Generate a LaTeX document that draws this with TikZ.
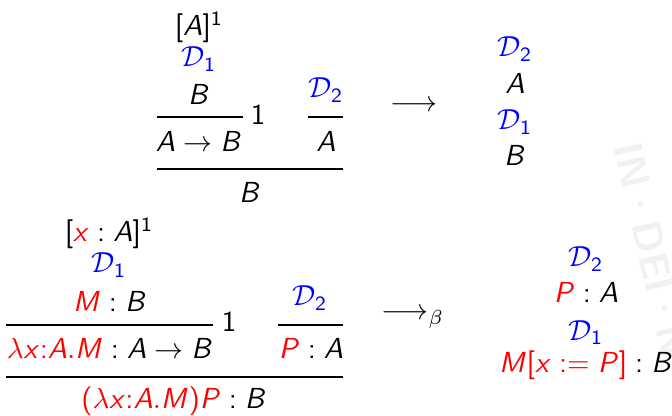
\documentclass[tikz,border=0pt]{standalone}
\usetikzlibrary{positioning}
% sans-serif math letters, as on the slide
\DeclareSymbolFont{sfitalic}{OT1}{cmss}{m}{sl}
\SetSymbolFont{operators}{normal}{OT1}{cmss}{m}{n}
\DeclareMathSymbol{A}{\mathalpha}{sfitalic}{`A}
\DeclareMathSymbol{B}{\mathalpha}{sfitalic}{`B}
\DeclareMathSymbol{M}{\mathalpha}{sfitalic}{`M}
\DeclareMathSymbol{P}{\mathalpha}{sfitalic}{`P}
\DeclareMathSymbol{x}{\mathalpha}{sfitalic}{`x}
\newcommand{\tm}[1]{\textcolor{red}{#1}}
\newcommand{\dv}[1]{\textcolor{blue}{\mathcal{D}_{#1}}}
\tikzset{fm/.style={inner sep=0pt,anchor=base},
  infer/.style={line width=0.6pt},
  seal/.style={text=gray!11,font=\sffamily\bfseries\fontsize{14}{14}\selectfont,rotate=-77}}

\begin{document}
\begin{tikzpicture}[x=0.345pt,y=-0.345pt]
\useasboundingbox (0,0) rectangle (672,416);
\node[seal] (wm) at (652,250) {IN\textperiodcentered DEI\textperiodcentered N};
% proof before reduction
\node[fm] (hypA) at (199,36) {$[A]^1$};
\node[fm] (dA) at (199,67) {$\dv1$};
\node[fm] (prB) at (199,105) {$B$};
\node[fm] (imp) at (199,152) {$A\to B$};
\node[fm] (lab1) at (258,125) {$1$};
\node[fm] (dB) at (326,98) {$\dv2$};
\node[fm] (prA) at (326,152) {$A$};
\node[fm] (conB) at (250,203) {$B$};
\coordinate (r1a) at (157,117); \coordinate (r1b) at (243,117);
\coordinate (r2a) at (308,117); \coordinate (r2b) at (343,117);
\coordinate (r3a) at (157,169); \coordinate (r3b) at (343,169);
\draw[infer] (r1a)--(r1b);
\draw[infer] (r2a)--(r2b);
\draw[infer] (r3a)--(r3b);
\node[fm] (red) at (414,112) {$\longrightarrow$};
% proof after reduction
\node[fm] (nB) at (515,57) {$\dv2$};
\node[fm] (nA) at (515,94) {$A$};
\node[fm] (nD) at (515,130) {$\dv1$};
\node[fm] (nC) at (515,166) {$B$};
% typed version
\node[fm] (hypx) at (109,242) {$[\tm{x}:A]^1$};
\node[fm] (dx) at (109,273) {$\dv1$};
\node[fm] (prM) at (110,312) {$\tm{M}:B$};
\node[fm] (lam) at (110,358) {$\tm{\lambda x{:}A.M}:A\to B$};
\node[fm] (lab2) at (229,332) {$1$};
\node[fm] (dP) at (310,306) {$\dv2$};
\node[fm] (prP) at (311,358) {$\tm{P}:A$};
\node[fm] (app) at (174,408) {$\tm{(\lambda x{:}A.M)P}:B$};
\coordinate (s1a) at (6,325); \coordinate (s1b) at (213,325);
\coordinate (s2a) at (278,325); \coordinate (s2b) at (343,325);
\coordinate (s3a) at (6,377); \coordinate (s3b) at (343,377);
\draw[infer] (s1a)--(s1b);
\draw[infer] (s2a)--(s2b);
\draw[infer] (s3a)--(s3b);
\node[fm] (beta) at (413,320) {$\longrightarrow_\beta$};
\node[fm] (mD) at (586,267) {$\dv2$};
\node[fm] (mP) at (586,303) {$\tm{P}:A$};
\node[fm] (mE) at (586,340) {$\dv1$};
\node[fm] (mS) at (586,373) {$\tm{M[x:=P]}:B$};
\end{tikzpicture}
\end{document}
